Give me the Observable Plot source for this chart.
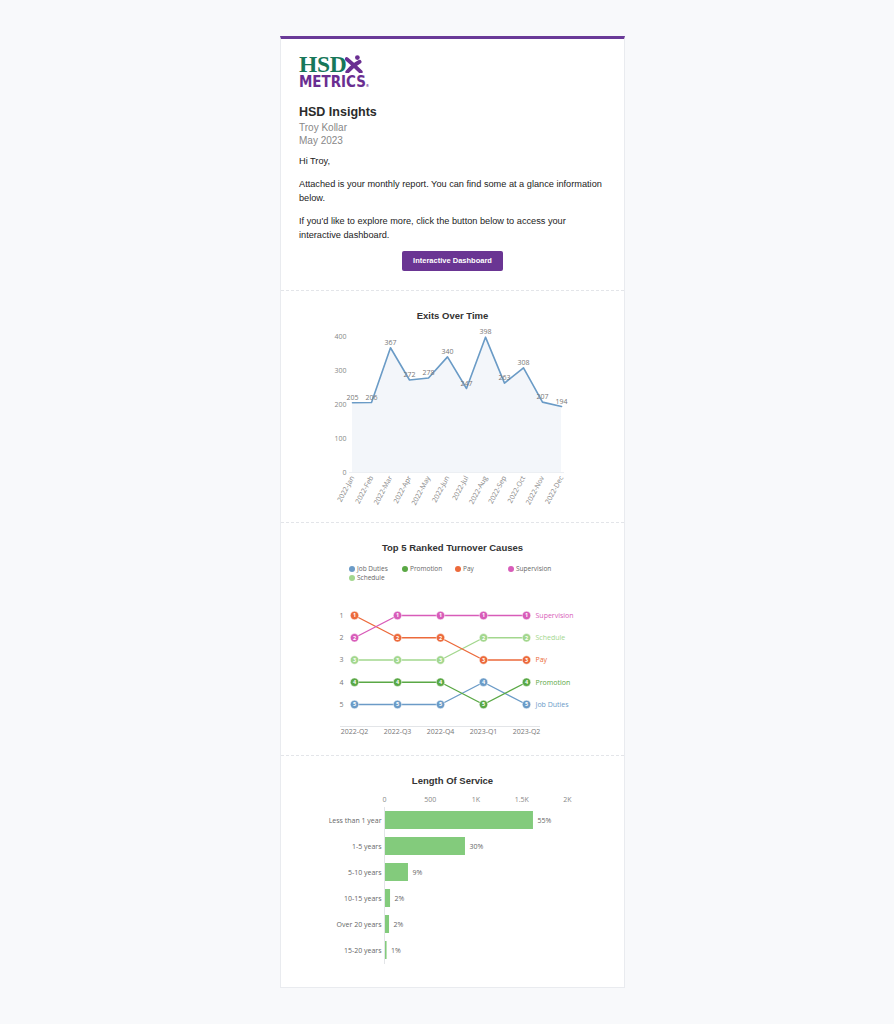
<!DOCTYPE html>
<html><head><meta charset="utf-8">
<script src="https://cdn.jsdelivr.net/npm/d3@7"></script>
<script src="https://cdn.jsdelivr.net/npm/@observablehq/plot@0.6"></script>
<style>
html,body{margin:0;padding:0;background:#f8f9fb;}
body{width:894px;height:1024px;position:relative;font-family:"Liberation Sans",Arial,sans-serif;}
#card{position:absolute;left:280px;top:36px;width:345px;background:#fff;border:1px solid #e9ebef;border-top:3px solid #6a3a98;box-sizing:border-box;}
.sec{position:relative;border-bottom:1px dashed #e3e5e9;box-sizing:border-box;}
.sec:last-child{border-bottom:none;}
.abs{position:absolute;white-space:nowrap;}
.ttl{position:absolute;left:0;width:100%;text-align:center;font-weight:bold;font-size:9.5px;color:#333;line-height:12px;}
.chart{position:absolute;left:0;}
.chart svg{display:block;overflow:visible;}
#legend{position:absolute;left:68px;top:41px;width:230px;font-family:"Open Sans",sans-serif;font-size:6.5px;color:#666;}
#legend .it{position:absolute;white-space:nowrap;line-height:9px;}
#legend .dot{display:inline-block;width:6px;height:6px;border-radius:50%;vertical-align:-1px;margin-right:2px;}
</style></head>
<body>
<div id="card">
  <div class="sec" id="s0" style="height:252px;">
    <div class="abs" style="left:18px;top:15px;line-height:20px;height:20px;">
      <span style="font-family:'Liberation Serif',serif;font-weight:bold;font-size:23.5px;color:#17775a;letter-spacing:-0.3px;">HSD</span><svg width="18" height="18" viewBox="0 0 16 16" style="vertical-align:-1px;margin-left:-1px"><circle cx="11" cy="2.3" r="2.1" fill="#6a2e91"/><path d="M1.5 3.5 Q7 8 14 15" stroke="#6a2e91" stroke-width="3.4" fill="none" stroke-linecap="round"/><path d="M13 6 Q7 9 2 15" stroke="#6a2e91" stroke-width="3.4" fill="none" stroke-linecap="round"/></svg>
    </div>
    <div class="abs" style="left:18px;top:36px;line-height:13px;font-family:'DejaVu Sans',sans-serif;font-weight:bold;font-size:16px;color:#6a2e91;transform-origin:0 0;transform:scaleX(0.84);">METRICS<span style="font-size:4px;color:#6a2e91;">®</span></div>
    <div class="abs" style="left:18px;top:66px;font-size:12.5px;font-weight:bold;color:#2b2b2b;line-height:14px;">HSD Insights</div>
    <div class="abs" style="left:18px;top:82px;font-size:10px;color:#888;line-height:13px;">Troy Kollar</div>
    <div class="abs" style="left:18px;top:95px;font-size:10px;color:#888;line-height:13px;">May 2023</div>
    <div class="abs" style="left:18px;top:116px;font-size:9.2px;color:#222;line-height:13px;">Hi Troy,</div>
    <div class="abs" style="left:18px;top:139px;width:310px;white-space:normal;font-size:9.2px;color:#222;line-height:13.5px;">Attached is your monthly report. You can find some at a glance information below.</div>
    <div class="abs" style="left:18px;top:176px;width:290px;white-space:normal;font-size:9.2px;color:#222;line-height:13.5px;">If you'd like to explore more, click the button below to access your interactive dashboard.</div>
    <div class="abs" style="left:121px;top:212px;width:101px;height:20px;background:#6a3593;border-radius:2px;color:#fff;font-weight:bold;font-size:7.5px;line-height:20px;text-align:center;">Interactive Dashboard</div>
  </div>
  <div class="sec" id="s1" style="height:232px;">
    <div class="ttl" style="top:19px;">Exits Over Time</div>
    <div class="chart" id="c1" style="top:34px;"></div>
  </div>
  <div class="sec" id="s2" style="height:233px;">
    <div class="ttl" style="top:19px;">Top 5 Ranked Turnover Causes</div>
    <div id="legend"></div>
    <div class="chart" id="c2" style="top:77px;"></div>
  </div>
  <div class="sec" id="s3" style="height:231px;">
    <div class="ttl" style="top:19px;">Length Of Service</div>
    <div class="chart" id="c3" style="top:34px;"></div>
  </div>
</div>
<script>
// ---- Data ----
const months = ["2022-Jan","2022-Feb","2022-Mar","2022-Apr","2022-May","2022-Jun","2022-Jul","2022-Aug","2022-Sep","2022-Oct","2022-Nov","2022-Dec"];
const exits = [205,206,367,272,278,340,247,398,263,308,207,194];
const exitTicks = [0,100,200,300,400];

const quarters = ["2022-Q2","2022-Q3","2022-Q4","2023-Q1","2023-Q2"];
const causes = ["Job Duties","Promotion","Pay","Supervision","Schedule"];
const causeColors = ["#6b9bc7","#5aa845","#ec6a3b","#d85cb9","#a3d78e"];
const rankJobDuties = [5,5,5,4,5];
const rankPromotion = [4,4,4,5,4];
const rankPay = [1,2,2,3,3];
const rankSupervision = [2,1,1,1,1];
const rankSchedule = [3,3,3,2,2];
const rankTicks = [1,2,3,4,5];

const tenure = ["Less than 1 year","1-5 years","5-10 years","10-15 years","Over 20 years","15-20 years"];
const tenureCount = [1628,885,262,66,55,28];
const tenurePct = ["55%","30%","9%","2%","2%","1%"];
const tenureTicks = [0,500,1000,1500,2000];
const tenureTickLabels = ["0","500","1K","1.5K","2K"];

const font = {fontFamily:"'Open Sans',sans-serif",fontSize:"7px",color:"#777",background:"transparent",overflow:"visible"};

// ---- Chart 1: Exits over time ----
const exitData = months.map((m,i)=>({month:m, value:exits[i]}));
const c1 = Plot.plot({
  width:343, height:185,
  marginLeft:68, marginRight:60, marginTop:11, marginBottom:38,
  style:font,
  x:{type:"point", domain:months, padding:0, label:null},
  y:{domain:[0,400], label:null},
  marks:[
    Plot.areaY(exitData,{x:"month", y:"value", fill:"#f3f6fa"}),
    Plot.ruleY([0],{stroke:"#eceff3"}),
    Plot.lineY(exitData,{x:"month", y:"value", stroke:"#6a9bc6", strokeWidth:1.6}),
    Plot.text(exitData,{x:"month", y:"value", text:d=>String(d.value), dy:-5, fill:"#777", fontSize:7}),
    Plot.axisY(exitTicks,{tickSize:0, tickPadding:3, fill:"#888"}),
    Plot.axisX(months,{tickSize:0, tickPadding:4, tickRotate:-62, fill:"#888", textAnchor:"end"})
  ]
});
document.getElementById("c1").append(c1);

// ---- Chart 2: Bump chart ----
const ranks = [rankJobDuties,rankPromotion,rankPay,rankSupervision,rankSchedule];
const bump = [];
causes.forEach((c,ci)=>quarters.forEach((q,qi)=>bump.push({cause:c, q, rank:ranks[ci][qi]})));
const last = bump.filter(d=>d.q===quarters[quarters.length-1]);
const color = {domain:causes, range:causeColors};
const drawOrder = ["Schedule","Job Duties","Promotion","Pay","Supervision"];
const ordered = drawOrder.flatMap(c=>bump.filter(d=>d.cause===c));
const c2 = Plot.plot({
  width:343, height:139,
  marginLeft:72, marginRight:97, marginTop:15, marginBottom:35,
  style:font,
  color,
  x:{type:"point", domain:quarters, padding:0, label:null},
  y:{domain:[1,5], reverse:true, label:null},
  marks:[
    Plot.ruleY([5],{dy:22, stroke:"#e3e5e8", insetLeft:-13, insetRight:-13}),
    Plot.line(ordered,{x:"q", y:"rank", z:"cause", stroke:"cause", strokeWidth:1.4}),
    Plot.dot(ordered,{x:"q", y:"rank", fill:"cause", r:4.2, stroke:"#fff", strokeWidth:0.5}),
    Plot.text(ordered,{x:"q", y:"rank", text:d=>String(d.rank), fill:"#fff", fontSize:5.5, fontWeight:"bold"}),
    Plot.text(last,{x:"q", y:"rank", text:"cause", fill:"cause", dx:9, textAnchor:"start", fontSize:7}),
    Plot.axisY(rankTicks,{tickSize:0, tickPadding:10, fill:"#777"}),
    Plot.axisX(quarters,{tickSize:0, tickPadding:25, fill:"#777"})
  ]
});
document.getElementById("c2").append(c2);

const lg = document.getElementById("legend");
causes.forEach((c,i)=>{
  const d = document.createElement("div");
  d.className="it";
  d.style.left = (i%4)*53 + "px";
  d.style.top = Math.floor(i/4)*9 + "px";
  d.innerHTML = `<span class="dot" style="background:${causeColors[i]}"></span>${c}`;
  lg.append(d);
});

// ---- Chart 3: Length of service ----
const tenureData = tenure.map((t,i)=>({t, n:tenureCount[i], p:tenurePct[i]}));
const c3 = Plot.plot({
  width:343, height:179,
  marginLeft:103, marginRight:57, marginTop:17, marginBottom:5,
  style:font,
  x:{domain:[0,2000], label:null},
  y:{domain:tenure, paddingInner:0.3, paddingOuter:0.15, label:null},
  marks:[
    Plot.barX(tenureData,{x:"n", y:"t", fill:"#83cb7c"}),
    Plot.ruleX([0],{stroke:"#e3e5e8"}),
    Plot.text(tenureData,{x:"n", y:"t", text:"p", dx:4, textAnchor:"start", fill:"#666", fontSize:7}),
    Plot.axisX(tenureTicks,{anchor:"top", tickSize:0, tickPadding:6, fill:"#888", tickFormat:(d)=>tenureTickLabels[tenureTicks.indexOf(d)]}),
    Plot.axisY(tenure,{tickSize:0, tickPadding:3, fill:"#666"})
  ]
});
document.getElementById("c3").append(c3);
</script>
</body></html>
